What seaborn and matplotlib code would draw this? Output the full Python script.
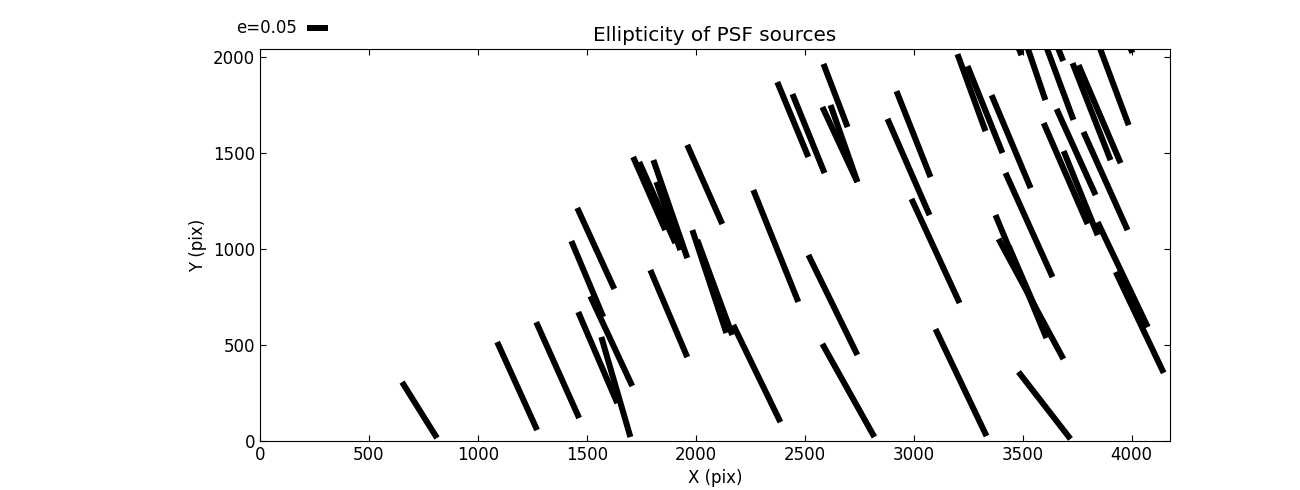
import numpy as np
import matplotlib
matplotlib.use('Agg')
import matplotlib.pyplot as plt
import seaborn as sns

# PSF sources: position on the chip (pix), ellipticity and position angle (deg)
src_x = [732, 1180, 1366, 1550, 1612, 1633, 1541, 1502, 1786, 1823,
         1883, 1874, 2041, 2062, 2087, 2280, 1876, 2445, 2517, 2641,
         2661, 2680, 2367, 2629, 2700, 2999, 2976, 3100, 3217, 3600,
         3265, 3327, 3447, 3529, 3492, 3538, 3509, 3697, 3745, 3766,
         3880, 3959, 4037, 3534, 3653, 3816, 3853, 3898, 3600, 3417,
         3926]
src_y = [161, 286, 369, 434, 520, 281, 1002, 843, 1288, 1241,
         1207, 1171, 1335, 830, 799, 351, 663, 1673, 1600, 1798,
         1543, 1548, 1015, 708, 263, 1597, 1426, 989, 304, 185,
         1813, 1725, 1558, 1124, 856, 739, 822, 1392, 1504, 1290,
         1353, 866, 617, 2008, 1915, 1714, 1701, 1912, 2219, 2225,
         2237]
ell = [0.157, 0.230, 0.250, 0.236, 0.236, 0.248, 0.212, 0.196, 0.190, 0.211,
       0.247, 0.172, 0.206, 0.258, 0.241, 0.257, 0.225, 0.193, 0.203, 0.161,
       0.197, 0.194, 0.287, 0.265, 0.254, 0.220, 0.250, 0.273, 0.282, 0.202,
       0.195, 0.223, 0.240, 0.272, 0.317, 0.325, 0.192, 0.262, 0.225, 0.216,
       0.256, 0.277, 0.266, 0.226, 0.238, 0.248, 0.254, 0.262, 0.238, 0.214,
       0.214]
theta = [-58.0, -65.6, -65.9, -66.8, -65.0, -73.8, -65.4, -67.2, -66.3, -66.0,
         -70.9, -70.6, -66.1, -71.7, -69.8, -64.1, -67.0, -67.5, -67.9, -69.1,
         -65.0, -70.7, -68.1, -63.9, -60.8, -68.4, -66.4, -65.2, -64.5, -52.2,
         -70.0, -68.1, -67.2, -65.7, -67.5, -61.6, -66.6, -66.5, -65.6, -68.0,
         -65.8, -64.5, -64.6, -71.2, -69.6, -68.6, -66.8, -69.5, -68.0, -68.0,
         -68.0]

key_e = 0.05

sns.set_style('ticks', {'axes.edgecolor': 'black', 'axes.labelcolor': 'black',
                        'text.color': 'black',
                        'xtick.color': 'black', 'ytick.color': 'black',
                        'xtick.direction': 'in', 'ytick.direction': 'in',
                        'xtick.top': True, 'ytick.right': True})
plt.rcParams['font.family'] = ['DejaVu Sans']
plt.rcParams['font.size'] = 12
plt.rcParams['xtick.major.size'] = 4
plt.rcParams['ytick.major.size'] = 4

u = np.array(ell) * np.cos(np.radians(theta))
v = np.array(ell) * np.sin(np.radians(theta))

fig = plt.figure(figsize=(13, 4.9), dpi=100)
ax = fig.add_axes([0.2, 0.1, 0.7, 0.8])

q = ax.quiver(src_x, src_y, u, v, angles='uv', pivot='middle',
              units='dots', width=6, scale_units='dots', scale=1 / 420,
              headwidth=1, headlength=0, headaxislength=0, color='black')
ax.quiverkey(q, 0.2365, 0.943, key_e, 'e=0.05', labelpos='W',
             coordinates='figure', fontproperties={'size': 12})

ax.set_xlim(0, 4176)
ax.set_ylim(0, 2040)
ax.set_xticks([0, 500, 1000, 1500, 2000, 2500, 3000, 3500, 4000])
ax.set_yticks([0, 500, 1000, 1500, 2000])
ax.tick_params(labelsize=12, colors='black')
ax.set_xlabel('X (pix)', fontsize=12, color='black')
ax.set_ylabel('Y (pix)', fontsize=12, color='black')
ax.set_title('Ellipticity of PSF sources', fontsize=14.4, color='black')

fig.savefig('out.png', dpi=100)
